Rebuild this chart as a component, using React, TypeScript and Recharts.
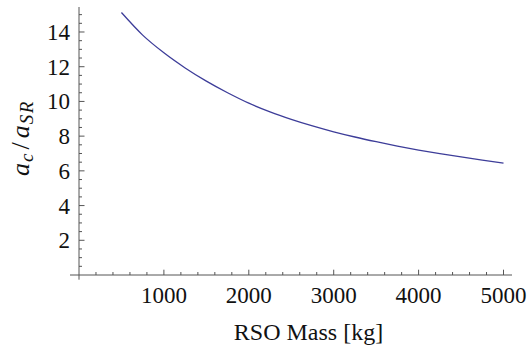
import React from "react";
import { LineChart, Line, XAxis, YAxis, ReferenceLine } from "recharts";

const massKg = [500, 750, 1000, 1250, 1500, 1750, 2000, 2250, 2500, 2750, 3000, 3250, 3500, 3750, 4000, 4250, 4500, 4750, 5000];
const accelRatio = [15.12, 13.82, 12.8, 11.93, 11.17, 10.5, 9.9, 9.4, 8.97, 8.59, 8.25, 7.95, 7.68, 7.43, 7.2, 6.99, 6.8, 6.62, 6.45];

const xTicks = [0, 200, 400, 600, 800, 1000, 1200, 1400, 1600, 1800, 2000, 2200, 2400, 2600, 2800, 3000, 3200, 3400, 3600, 3800, 4000, 4200, 4400, 4600, 4800, 5000];
const xMajor = [1000, 2000, 3000, 4000, 5000];
const yTicks = [0.5, 1, 1.5, 2, 2.5, 3, 3.5, 4, 4.5, 5, 5.5, 6, 6.5, 7, 7.5, 8, 8.5, 9, 9.5, 10, 10.5, 11, 11.5, 12, 12.5, 13, 13.5, 14, 14.5, 15];
const yMajor = [2, 4, 6, 8, 10, 12, 14];

const xDomain = [0, 5100];
const yDomain = [0, 15.44];
const xAxisStart = -106;
const yAxisStart = -0.27;

const data = massKg.map((m, i) => ({ mass: m, ratio: accelRatio[i] }));

const AXIS = "#555555";
const FAM = "Times New Roman";

function XTick(props: any) {
  const { x, y, payload } = props;
  const v = payload.value;
  if (v === 0) return <g />;
  const major = xMajor.includes(v);
  return (
    <g>
      <line x1={x} y1={y} x2={x} y2={y - (major ? 5.3 : 3)} stroke={AXIS} strokeWidth={1} />
      {major && (
        <text x={x} y={y + 28} textAnchor="middle" fontFamily={FAM} fontSize={23} fill="#111">
          {v}
        </text>
      )}
    </g>
  );
}

function YTick(props: any) {
  const { x, y, payload } = props;
  const v = payload.value;
  const major = yMajor.includes(v);
  return (
    <g>
      <line x1={x} y1={y} x2={x + (major ? 5.5 : 3)} y2={y} stroke={AXIS} strokeWidth={1} />
      {major && (
        <text x={x - 9} y={y} dy="0.35em" textAnchor="end" fontFamily={FAM} fontSize={23} fill="#111">
          {v}
        </text>
      )}
    </g>
  );
}

function XTitle(props: any) {
  const vb = props.viewBox;
  return (
    <text x={vb.x + vb.width / 2 + 13} y={vb.y + 65} textAnchor="middle" fontFamily={FAM} fontSize={24} fill="#111">
      RSO Mass [kg]
    </text>
  );
}

function YTitle(props: any) {
  const vb = props.viewBox;
  const cx = vb.x + 29;
  const cy = vb.y + vb.height / 2 - 3;
  return (
    <text
      x={0}
      y={0}
      transform={`translate(${cx},${cy}) rotate(-90)`}
      textAnchor="middle"
      fontFamily={FAM}
      fontSize={26}
      fill="#111"
    >
      <tspan fontStyle="italic" fontFamily={FAM}>a</tspan>
      <tspan fontStyle="italic" fontFamily={FAM} fontSize={19} dy={4} dx={1}>c</tspan>
      <tspan fontFamily={FAM} dy={-4} dx={4}>/</tspan>
      <tspan fontStyle="italic" fontFamily={FAM} dx={4}>a</tspan>
      <tspan fontStyle="italic" fontFamily={FAM} fontSize={19} dy={4} dx={1} letterSpacing={1.5}>SR</tspan>
    </text>
  );
}

export default function App() {
  return (
    <div style={{ position: "absolute", left: 0, top: 0, width: 527, height: 349, background: "#fff", fontFamily: FAM }}>
      <LineChart width={527} height={349} data={data} margin={{ top: 7, right: 15, bottom: 0, left: 0 }} style={{ fontFamily: FAM }}>
        <XAxis
          type="number"
          dataKey="mass"
          domain={xDomain}
          ticks={xTicks}
          interval={0}
          axisLine={false}
          tickLine={false}
          tickSize={0}
          tickMargin={0}
          height={74}
          tick={<XTick />}
          label={{ content: (p: any) => <XTitle {...p} /> }}
        />
        <YAxis
          type="number"
          dataKey="ratio"
          domain={yDomain}
          ticks={yTicks}
          interval={0}
          axisLine={false}
          tickLine={false}
          tickSize={0}
          tickMargin={0}
          width={79}
          tick={<YTick />}
          label={{ content: (p: any) => <YTitle {...p} /> }}
        />
        <ReferenceLine
          segment={[{ x: xAxisStart, y: 0 }, { x: xDomain[1], y: 0 }]}
          stroke={AXIS}
          strokeWidth={1}
          ifOverflow="visible"
        />
        <ReferenceLine
          segment={[{ x: 0, y: yAxisStart }, { x: 0, y: yDomain[1] }]}
          stroke={AXIS}
          strokeWidth={1}
          ifOverflow="visible"
        />
        <Line
          type="monotone"
          dataKey="ratio"
          stroke="#3d3d99"
          strokeWidth={1.3}
          dot={false}
          isAnimationActive={false}
        />
      </LineChart>
    </div>
  );
}
